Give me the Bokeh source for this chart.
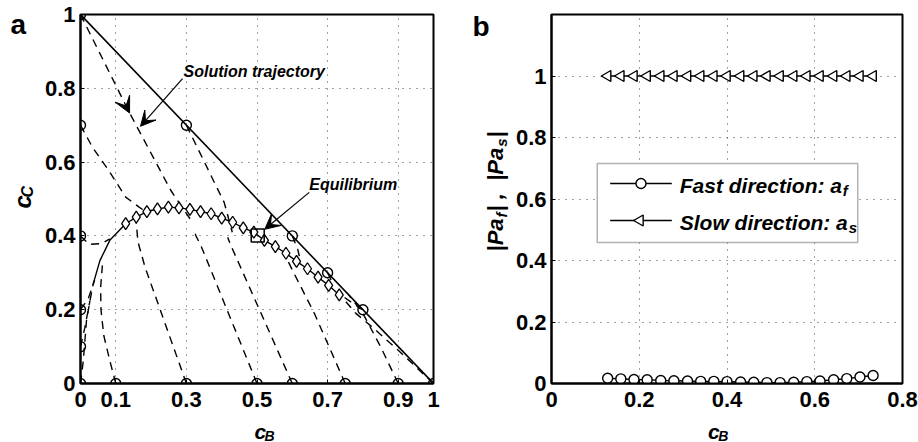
from math import pi
from bokeh.plotting import figure
from bokeh.layouts import row, column
from bokeh.models import (FixedTicker, Label, Arrow, VeeHead, BoxAnnotation,
                          Range1d, CustomJSTickFormatter)
from bokeh.embed import file_html
from bokeh.resources import INLINE

# ---------------- data: panel a ----------------
cb = [0.128, 0.158, 0.188, 0.218, 0.249, 0.279, 0.310, 0.340, 0.370, 0.400, 0.431,
      0.461, 0.491, 0.521, 0.552, 0.582, 0.612, 0.643, 0.673, 0.703, 0.733]
cc = [0.433, 0.451, 0.466, 0.473, 0.478, 0.476, 0.472, 0.466, 0.460, 0.448, 0.437,
      0.422, 0.410, 0.388, 0.371, 0.353, 0.331, 0.311, 0.288, 0.266, 0.240]
manifold_tail_x = [0.036, 0.055, 0.083]
manifold_tail_y = [0.270, 0.333, 0.388]
equil_x = [0.502]
equil_y = [0.401]
boundary_x = [0.0, 1.0]
boundary_y = [1.0, 0.0]
init_x = [0, 0, 0, 0, 0, 0, 0.1, 0.3, 0.5, 0.6, 0.75, 0.9, 1.0, 0.3, 0.6, 0.7, 0.8]
init_y = [1, 0.7, 0.4, 0.2, 0.1, 0, 0, 0, 0, 0, 0, 0, 0, 0.7, 0.4, 0.3, 0.2]
traj_x = [
    [0.0, 0.137, 0.256, 0.275, 0.317],
    [0.0, 0.034, 0.080, 0.128, 0.166, 0.194],
    [0.0, 0.025, 0.060, 0.083],
    [0.0, 0.022, 0.040],
    [0.0, 0.012, 0.027],
    [0.0, 0.008, 0.017, 0.027, 0.036],
    [0.1, 0.083, 0.066, 0.058, 0.057, 0.062],
    [0.3, 0.183, 0.163, 0.159, 0.157],
    [0.5, 0.341, 0.327, 0.322],
    [0.6, 0.426, 0.417],
    [0.3, 0.393, 0.407, 0.430],
    [0.75, 0.663, 0.601, 0.587],
    [0.9, 0.85, 0.80, 0.76],
    [1.0, 0.95, 0.90, 0.83, 0.78, 0.74],
    [0.8, 0.775, 0.745],
    [0.7, 0.715],
    [0.6, 0.615, 0.62],
]
traj_y = [
    [1.0, 0.737, 0.523, 0.496, 0.437],
    [0.7, 0.640, 0.577, 0.505, 0.478, 0.460],
    [0.4, 0.377, 0.379, 0.392],
    [0.2, 0.230, 0.280],
    [0.1, 0.150, 0.225],
    [0.0, 0.062, 0.171, 0.225, 0.270],
    [0.0, 0.062, 0.130, 0.200, 0.260, 0.320],
    [0.0, 0.315, 0.383, 0.424, 0.450],
    [0.0, 0.374, 0.400, 0.415],
    [0.0, 0.374, 0.396],
    [0.7, 0.518, 0.491, 0.410],
    [0.0, 0.189, 0.306, 0.333],
    [0.0, 0.10, 0.19, 0.24],
    [0.0, 0.045, 0.09, 0.15, 0.19, 0.235],
    [0.2, 0.215, 0.235],
    [0.3, 0.27],
    [0.4, 0.365, 0.345],
]
a_xticks = [0, 0.1, 0.3, 0.5, 0.7, 0.9, 1]
a_xlabels = ["0", "0.1", "0.3", "0.5", "0.7", "0.9", "1"]
a_yticks = [0, 0.2, 0.4, 0.6, 0.8, 1]
a_ylabels = ["0", "0.2", "0.4", "0.6", "0.8", "1"]

# ---------------- data: panel b ----------------
pa_f = [0.017, 0.015, 0.013, 0.012, 0.010, 0.009, 0.008, 0.007, 0.007, 0.006, 0.005,
        0.004, 0.003, 0.003, 0.004, 0.006, 0.008, 0.012, 0.016, 0.021, 0.026]
pa_s = [1.0, 1.0, 1.0, 1.0, 1.0, 1.0, 1.0, 1.0, 1.0, 1.0, 1.0,
        1.0, 1.0, 1.0, 1.0, 1.0, 1.0, 1.0, 1.0, 1.0, 1.0]
b_xticks = [0, 0.2, 0.4, 0.6, 0.8]
b_xlabels = ["0", "0.2", "0.4", "0.6", "0.8"]
b_yticks = [0, 0.2, 0.4, 0.6, 0.8, 1]
b_ylabels = ["0", "0.2", "0.4", "0.6", "0.8", "1"]
legend_labels = ["Fast direction: a", "Slow direction: a"]
legend_subs = ["f", "s"]

FONT = "Liberation Sans"
TICK_SIZE = "22px"
FW, FH = 353, 369   # frame size in pixels
H = 442             # total height
XLAB_H = 26         # height of the strip holding the x-axis title
DESC = 0.212        # font descent (em) -- labels are anchored at the bottom of the descent


def fmt(tks, lbls):
    return CustomJSTickFormatter(args=dict(tks=tks, lbls=lbls),
                                 code="const i = tks.indexOf(tick); return i >= 0 ? lbls[i] : '';")


def style_axes(p, xt, xl, yt, yl):
    for ax, t, l in ((p.xaxis[0], xt, xl), (p.yaxis[0], yt, yl)):
        ax.ticker = FixedTicker(ticks=t)
        ax.formatter = fmt(t, l)
        ax.major_label_text_font = FONT
        ax.major_label_text_font_style = "bold"
        ax.major_label_text_font_size = TICK_SIZE
        ax.major_label_text_color = "black"
        ax.axis_line_width = 2
        ax.axis_line_color = "black"
        ax.major_tick_in = 4
        ax.major_tick_out = 0
        ax.major_tick_line_color = "black"
        ax.minor_tick_line_color = None
    p.xaxis[0].major_label_standoff = 8
    p.yaxis[0].major_label_standoff = 5
    for g in (p.xgrid[0], p.ygrid[0]):
        g.grid_line_color = "#444444"
        g.grid_line_dash = "1 6"
        g.grid_line_width = 1
    p.xgrid[0].ticker = FixedTicker(ticks=xt)
    p.ygrid[0].ticker = FixedTicker(ticks=yt)
    p.outline_line_color = "black"
    p.outline_line_width = 2
    p.background_fill_color = "white"
    p.border_fill_color = "white"


def blank(w, h):
    """A figure without axes whose data units are pixels (y up)."""
    f = figure(width=w, height=h, x_range=Range1d(0, w), y_range=Range1d(0, h),
               x_axis_type=None, y_axis_type=None, output_backend="svg", toolbar_location=None,
               min_border=0, outline_line_color=None)
    f.grid.visible = False
    f.background_fill_color = "white"
    f.border_fill_color = "white"
    return f


def txt(p, text, x, y, size, style="bold italic", angle=0.0):
    """(x, y) is where the text baseline should start."""
    d = DESC * size
    xo, yo = (-d, 0.0) if angle else (0.0, d)
    p.add_layout(Label(x=x, y=y, x_offset=xo, y_offset=yo, text=text, text_font=FONT,
                       text_font_size=f"{size}px", text_font_style=style, angle=angle,
                       text_align="left", text_baseline="alphabetic", text_color="black"))


def fx(p, px):
    r = p.x_range
    return r.start + px / FW * (r.end - r.start)


def fy(p, py):
    r = p.y_range
    return r.start + py / FH * (r.end - r.start)


# ---------------- panel a ----------------
p1 = figure(width=420, height=H - XLAB_H, x_range=Range1d(0, 1), y_range=Range1d(0, 1),
            output_backend="svg", toolbar_location=None,
            min_border_left=40, min_border_right=27, min_border_top=14, min_border_bottom=H - XLAB_H - 14 - FH)
style_axes(p1, a_xticks, a_xlabels, a_yticks, a_ylabels)

p1.line(boundary_x, boundary_y, line_color="black", line_width=1.6)
p1.multi_line(traj_x, traj_y, line_color="black", line_width=1.4, line_dash="8 6")
p1.line(manifold_tail_x + cb, manifold_tail_y + cc, line_color="black", line_width=1.4)
p1.scatter(cb, cc, marker="diamond", size=12, fill_color="white", line_color="black", line_width=1.3)
p1.scatter(equil_x, equil_y, marker="square", size=13, fill_color=None, line_color="black", line_width=1.5)
p1.scatter(init_x, init_y, marker="circle", size=10, fill_color=None, line_color="black", line_width=1.4)

p1.add_layout(Arrow(end=VeeHead(size=16, fill_color="black", line_color="black", line_width=1),
                    x_start=0.125, y_start=0.76, x_end=0.139, y_end=0.733, line_alpha=0))
p1.add_layout(Arrow(end=VeeHead(size=15, fill_color="black", line_color="black", line_width=1),
                    x_start=0.289, y_start=0.826, x_end=0.170, y_end=0.697,
                    line_color="black", line_width=1.2))
p1.add_layout(Arrow(end=VeeHead(size=15, fill_color="black", line_color="black", line_width=1),
                    x_start=0.648, y_start=0.518, x_end=0.522, y_end=0.418,
                    line_color="black", line_width=1.2))
txt(p1, "Solution trajectory", 0.292, 0.837, 16)
txt(p1, "Equilibrium", 0.648, 0.531, 16)

strip_a = blank(40, H)
txt(strip_a, "a", 10, H - 30, 28, style="bold")
txt(strip_a, "c", 27, H - 208, 24, angle=pi / 2)
txt(strip_a, "C", 30, H - 197, 16, angle=pi / 2)

xlab_a = blank(420, XLAB_H)
txt(xlab_a, "c", 207, H - 435, 21)
txt(xlab_a, "B", 219, H - 438.5, 14)

# ---------------- panel b ----------------
SB = 52  # width of the left strip of panel b
p2 = figure(width=918 - 460 - SB, height=H - XLAB_H, x_range=Range1d(0, 0.8), y_range=Range1d(0, 1.2),
            output_backend="svg", toolbar_location=None,
            min_border_left=549 - 460 - SB, min_border_right=16, min_border_top=14,
            min_border_bottom=H - XLAB_H - 14 - FH)
style_axes(p2, b_xticks, b_xlabels, b_yticks, b_ylabels)

# legend frame (drawn under the data, over the grid)
p2.add_layout(BoxAnnotation(left=fx(p2, 46), right=fx(p2, 308), bottom=fy(p2, 141), top=fy(p2, 220),
                            level="underlay", fill_color="white", fill_alpha=1.0,
                            line_color="black", line_width=1.5))

p2.line(cb, pa_f, line_color="black", line_width=1.4)
p2.scatter(cb, pa_f, marker="circle", size=10, fill_color="white", line_color="black", line_width=1.4)
p2.line(cb, pa_s, line_color="black", line_width=1.4)
p2.scatter(cb, pa_s, marker="triangle", angle=pi / 2, size=11, fill_color="white",
           line_color="black", line_width=1.4)

# legend samples
row_y = [200, 163]
p2.segment(x0=[fx(p2, 59)] * 2, y0=[fy(p2, v) for v in row_y],
           x1=[fx(p2, 121)] * 2, y1=[fy(p2, v) for v in row_y], line_color="black", line_width=1.4)
p2.scatter([fx(p2, 90)], [fy(p2, row_y[0])], marker="circle", size=10, fill_color="white",
           line_color="black", line_width=1.4)
p2.scatter([fx(p2, 89)], [fy(p2, row_y[1])], marker="triangle", angle=pi / 2, size=11,
           fill_color="white", line_color="black", line_width=1.4)
txt(p2, legend_labels[0], fx(p2, 129), fy(p2, 194), 21)
txt(p2, legend_subs[0], fx(p2, 293), fy(p2, 190), 15)
txt(p2, legend_labels[1], fx(p2, 129), fy(p2, 157), 21)
txt(p2, legend_subs[1], fx(p2, 299), fy(p2, 153), 15)

strip_b = blank(SB, H)
txt(strip_b, "b", 12, H - 32, 28, style="bold")
F, S = 22, 15
NB = "\u00a0"
w = {"|": 0.28, "P": 0.667, "a": 0.556, "f": 0.333, "s": 0.556, ",": 0.278, NB: 0.278}
def tw(t, size):
    return sum(w[c] for c in t) * size
pieces = [("|Pa", F, 0), ("f", S, 4), ("|" + NB + "," + NB + NB + "|Pa", F, 0), ("s", S, 4), ("|", F, 0)]
yb = H - 251
for t, size, dx in pieces:
    txt(strip_b, t, 40 + dx, yb, size, angle=pi / 2)
    yb += tw(t, size) + 1

xlab_b = blank(918 - 460 - SB, XLAB_H)
txt(xlab_b, "c", 693 - 460 - SB, H - 435, 21)
txt(xlab_b, "B", 705 - 460 - SB, H - 438.5, 14)

layout = row(strip_a, column(p1, xlab_a), strip_b, column(p2, xlab_b))
open("out.html", "w").write(file_html(layout, INLINE))
